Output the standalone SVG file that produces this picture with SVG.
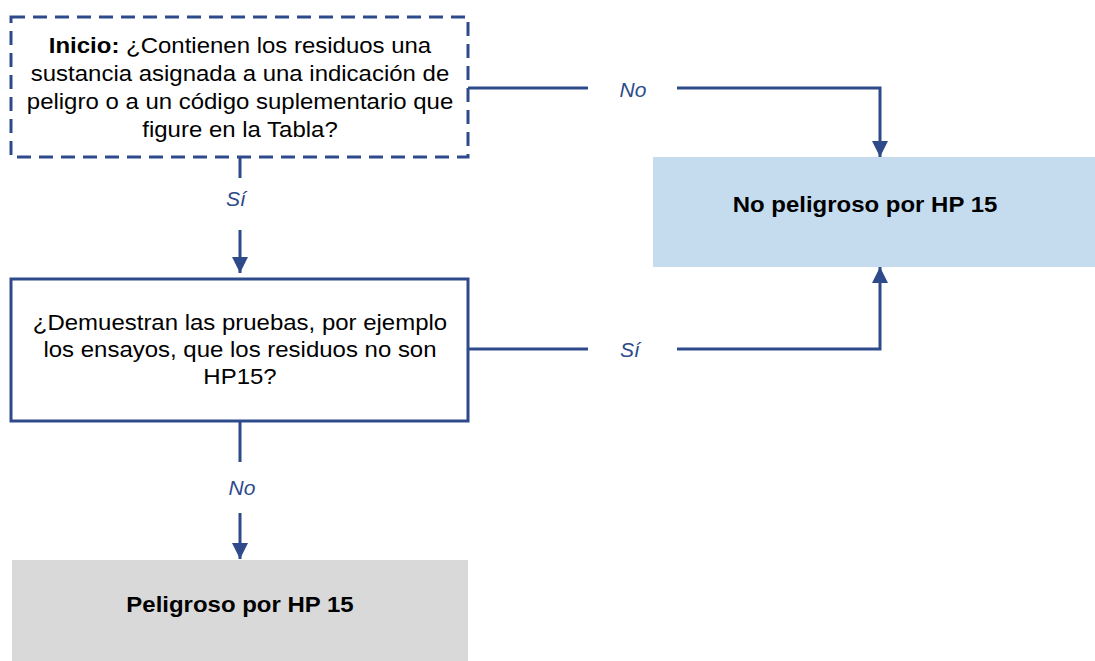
<svg xmlns="http://www.w3.org/2000/svg" width="1095" height="661" viewBox="0 0 1095 661">
<defs>
<style>
.t{font-family:"Liberation Sans",Arial,sans-serif;font-size:22px;fill:#000;text-anchor:middle}
.b{font-weight:bold}
.lbl{font-family:"Liberation Sans",Arial,sans-serif;font-size:21px;font-style:italic;fill:#2E4A8B;text-anchor:middle}
.ln{fill:none;stroke:#2E4A8B;stroke-width:3}
</style>
<marker id="ah" viewBox="0 0 10 10" refX="10" refY="5" markerWidth="16" markerHeight="16" markerUnits="userSpaceOnUse" orient="auto">
<path d="M0,0 L10,5 L0,10 Z" fill="#2E4A8B"/>
</marker>
</defs>
<rect width="1095" height="661" fill="#fff"/>
<g id="start">
<rect x="11" y="17" width="457" height="140" fill="#fff" stroke="#2E4A8B" stroke-width="3" stroke-dasharray="14 8"/>
<g transform="translate(240,0) scale(1.09,1)">
<text class="t" x="0" y="53"><tspan class="b">Inicio:</tspan> ¿Contienen los residuos una</text>
<text class="t" x="0" y="81">sustancia asignada a una indicación de</text>
<text class="t" x="0" y="109">peligro o a un código suplementario que</text>
<text class="t" x="0" y="137">figure en la Tabla?</text>
</g>
</g>
<g id="test">
<rect x="11" y="279" width="457" height="142" fill="#fff" stroke="#2E4A8B" stroke-width="3"/>
<g transform="translate(240,0) scale(1.09,1)">
<text class="t" x="0" y="330">¿Demuestran las pruebas, por ejemplo</text>
<text class="t" x="0" y="357">los ensayos, que los residuos no son</text>
<text class="t" x="0" y="384">HP15?</text>
</g>
</g>
<g id="nohaz">
<rect x="653" y="157" width="442" height="110" fill="#C5DCEF"/>
<text class="t b" x="0" y="212" transform="translate(865,0) scale(1.09,1)">No peligroso por HP 15</text>
</g>
<g id="haz">
<rect x="12" y="560" width="456" height="101" fill="#D9D9D9"/>
<text class="t b" x="0" y="612" transform="translate(240,0) scale(1.09,1)">Peligroso por HP 15</text>
</g>
<g id="connectors">
<path class="ln" d="M240,157 V178"/>
<path class="ln" d="M240,230 V273" marker-end="url(#ah)"/>
<text class="lbl" x="236" y="206">Sí</text>
<path class="ln" d="M468,88 H588"/>
<path class="ln" d="M677,88 H880 V157" marker-end="url(#ah)"/>
<text class="lbl" x="633" y="97">No</text>
<path class="ln" d="M468,349 H588"/>
<path class="ln" d="M677,349 H880 V267" marker-end="url(#ah)"/>
<text class="lbl" x="630" y="357">Sí</text>
<path class="ln" d="M240,421 V462"/>
<path class="ln" d="M240,513 V559" marker-end="url(#ah)"/>
<text class="lbl" x="242" y="495">No</text>
</g>
</svg>
